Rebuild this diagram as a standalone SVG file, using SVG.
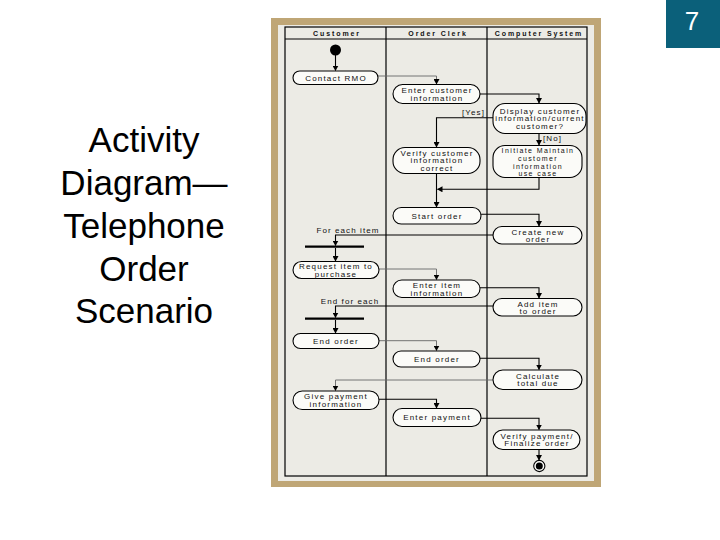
<svg xmlns="http://www.w3.org/2000/svg" width="720" height="540" viewBox="0 0 720 540">
<defs>
<marker id="ah" markerWidth="6" markerHeight="6" refX="5" refY="3" orient="auto" markerUnits="userSpaceOnUse">
<path d="M0,0 L5.5,3 L0,6 Z" fill="#000"/>
</marker>
<style>
.title{font-family:"Liberation Sans",Arial,sans-serif;font-size:35px;fill:#000;text-anchor:middle}
.hdr{font-family:"Liberation Sans",Arial,sans-serif;font-size:7px;font-weight:bold;letter-spacing:1.9px;fill:#111;text-anchor:middle}
.nt{font-family:"Liberation Sans",Arial,sans-serif;font-size:8px;letter-spacing:1.2px;fill:#111;text-anchor:middle}
.nt4{font-family:"Liberation Sans",Arial,sans-serif;font-size:7px;letter-spacing:1.4px;fill:#111;text-anchor:middle}
.lbl{font-family:"Liberation Sans",Arial,sans-serif;font-size:8px;letter-spacing:1.1px;fill:#111}
.node rect{fill:#fbfbf8;stroke:#000;stroke-width:1.1}
.c{fill:none;stroke:#000;stroke-width:1.1}
.g{fill:none;stroke:#666;stroke-width:0.9}
.bar{stroke:#000;stroke-width:2.2}
</style>
</defs>
<rect width="720" height="540" fill="#fff"/>
<g id="pagenum">
<rect x="666" y="0" width="54" height="48" fill="#0b607a"/>
<text x="692" y="30" font-family="Liberation Sans,Arial,sans-serif" font-size="26" fill="#fff" text-anchor="middle">7</text>
</g>
<g id="title">
<text class="title" x="144" y="152">Activity</text>
<text class="title" x="144" y="195">Diagram—</text>
<text class="title" x="144" y="238">Telephone</text>
<text class="title" x="144" y="281">Order</text>
<text class="title" x="144" y="323">Scenario</text>
</g>
<g id="frame">
<rect x="271" y="18" width="330" height="469" fill="#bfa676"/>
<rect x="278" y="25" width="316" height="456" fill="#ecebe5"/>
<rect x="285" y="27" width="302" height="449" fill="none" stroke="#000" stroke-width="1.2"/>
<line x1="285" y1="39" x2="587" y2="39" stroke="#000" stroke-width="1.2"/>
<line x1="386" y1="27" x2="386" y2="476" stroke="#000" stroke-width="1.2"/>
<line x1="487" y1="27" x2="487" y2="476" stroke="#000" stroke-width="1.2"/>
<text class="hdr" x="337" y="36">Customer</text>
<text class="hdr" x="438" y="36">Order Clerk</text>
<text class="hdr" x="539" y="36">Computer System</text>
</g>
<g id="connectors">
<path class="c" d="M335.5,55 V70.5" marker-end="url(#ah)"/>
<path class="g" d="M378,76 H436.5 V84" marker-end="url(#ah)"/>
<path class="c" d="M480,94 H539 V103" marker-end="url(#ah)"/>
<path class="c" d="M493,117.7 H436.5 V147" marker-end="url(#ah)"/>
<path class="c" d="M539,133.5 V145" marker-end="url(#ah)"/>
<path class="c" d="M539,177.5 V189.3 H437.5" marker-end="url(#ah)"/>
<path class="c" d="M436.5,173.5 V207" marker-end="url(#ah)"/>
<path class="c" d="M481,214.3 H539 V226" marker-end="url(#ah)"/>
<path class="c" d="M493,235 H335.5 V245.5" marker-end="url(#ah)"/>
<path class="c" d="M335.5,248 V261" marker-end="url(#ah)"/>
<path class="g" d="M379,269 H436.5 V279.5" marker-end="url(#ah)"/>
<path class="c" d="M480,287.7 H539 V298" marker-end="url(#ah)"/>
<path class="c" d="M493,306 H335.5 V317.5" marker-end="url(#ah)"/>
<path class="c" d="M335.5,320 V333" marker-end="url(#ah)"/>
<path class="g" d="M379,340.7 H436.5 V350.5" marker-end="url(#ah)"/>
<path class="c" d="M480,358.3 H539 V369.5" marker-end="url(#ah)"/>
<path class="g" d="M493,380 H335.5 V390.5" marker-end="url(#ah)"/>
<path class="c" d="M379,399.3 H436.5 V408" marker-end="url(#ah)"/>
<path class="c" d="M481,418.3 H539 V429.5" marker-end="url(#ah)"/>
<path class="c" d="M539,449.5 V460" marker-end="url(#ah)"/>
<line class="bar" x1="305" y1="246.7" x2="364" y2="246.7"/>
<line class="bar" x1="305" y1="318.7" x2="364" y2="318.7"/>
<text class="lbl" x="485" y="115" text-anchor="end">[Yes]</text>
<text class="lbl" x="543" y="140.5">[No]</text>
<text class="lbl" x="348" y="233" text-anchor="middle">For each item</text>
<text class="lbl" x="350" y="304" text-anchor="middle">End for each</text>
</g>
<g id="start"><circle cx="335.5" cy="50" r="5.5" fill="#000"/></g>
<g id="end"><circle cx="539.3" cy="466" r="5.6" fill="#fbfbf8" stroke="#000" stroke-width="1.1"/><circle cx="539.3" cy="466" r="3.5" fill="#000"/></g>
<g id="n-contact" class="node"><rect x="293" y="71" width="85" height="13.5" rx="6.75"/><text class="nt" x="336" y="80.6">Contact RMO</text></g>
<g id="n-entercust" class="node"><rect x="393" y="84.5" width="87" height="19" rx="9.5"/><text class="nt" x="437" y="93">Enter customer</text><text class="nt" x="437" y="100.5">information</text></g>
<g id="n-display" class="node"><rect x="493" y="103.5" width="93" height="30" rx="12"/><text class="nt" x="540" y="113.8">Display customer</text><text class="nt" x="540" y="121.3">information/current</text><text class="nt" x="540" y="128.8">customer?</text></g>
<g id="n-verify" class="node"><rect x="393" y="147.5" width="87" height="26" rx="12"/><text class="nt" x="437" y="155.8">Verify customer</text><text class="nt" x="437" y="163.3">information</text><text class="nt" x="437" y="170.8">correct</text></g>
<g id="n-initiate" class="node"><rect x="493" y="145.5" width="89" height="32" rx="12"/><text class="nt4" x="538" y="153">Initiate Maintain</text><text class="nt4" x="538" y="160.8">customer</text><text class="nt4" x="538" y="168.6">information</text><text class="nt4" x="538" y="176.2">use case</text></g>
<g id="n-startorder" class="node"><rect x="393" y="207.5" width="88" height="16.5" rx="8.25"/><text class="nt" x="437" y="218.6">Start order</text></g>
<g id="n-createnew" class="node"><rect x="493" y="226.5" width="89" height="17.5" rx="8.75"/><text class="nt" x="538" y="234.5">Create new</text><text class="nt" x="538" y="242">order</text></g>
<g id="n-request" class="node"><rect x="293" y="261.5" width="86" height="17" rx="8.5"/><text class="nt" x="336" y="269">Request item to</text><text class="nt" x="336" y="276.5">purchase</text></g>
<g id="n-enteritem" class="node"><rect x="393" y="280" width="87" height="17.5" rx="8.75"/><text class="nt" x="437" y="288">Enter item</text><text class="nt" x="437" y="295.5">information</text></g>
<g id="n-additem" class="node"><rect x="493" y="298.5" width="89" height="17.5" rx="8.75"/><text class="nt" x="538" y="306.5">Add item</text><text class="nt" x="538" y="314">to order</text></g>
<g id="n-endordercust" class="node"><rect x="293" y="333.5" width="86" height="15" rx="7.5"/><text class="nt" x="336" y="343.9">End order</text></g>
<g id="n-endorderclerk" class="node"><rect x="393" y="351" width="87" height="16" rx="8"/><text class="nt" x="437" y="361.9">End order</text></g>
<g id="n-calc" class="node"><rect x="493" y="370" width="89" height="19.5" rx="9.75"/><text class="nt" x="538" y="378.7">Calculate</text><text class="nt" x="538" y="386.2">total due</text></g>
<g id="n-givepay" class="node"><rect x="293" y="391" width="86" height="18.5" rx="9.25"/><text class="nt" x="336" y="399.3">Give payment</text><text class="nt" x="336" y="406.8">information</text></g>
<g id="n-enterpay" class="node"><rect x="393" y="408.5" width="88" height="18" rx="9"/><text class="nt" x="437" y="420.4">Enter payment</text></g>
<g id="n-verifypay" class="node"><rect x="493" y="430" width="87" height="19.5" rx="9.75"/><text class="nt" x="537" y="438.7">Verify payment/</text><text class="nt" x="537" y="446.2">Finalize order</text></g>
</svg>
